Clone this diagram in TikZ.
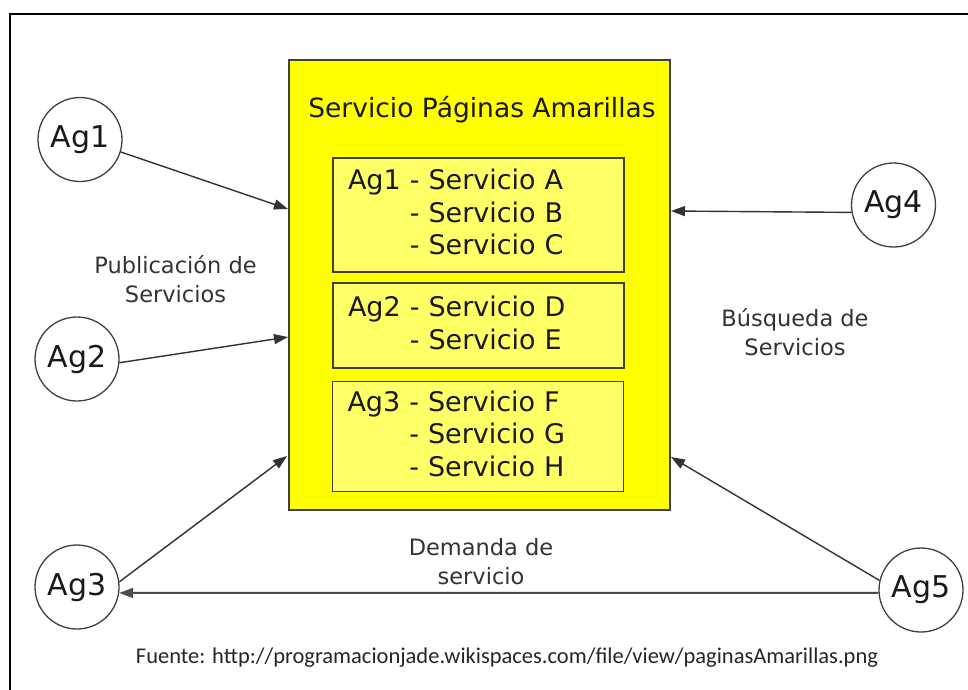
\documentclass[tikz,border=0pt]{standalone}
\usepackage{fontspec}
\setmainfont{DejaVu Sans}
\newfontfamily\fuentefont{Carlito}
\usetikzlibrary{arrows.meta, positioning}
\definecolor{amarillo}{RGB}{255,255,0}
\definecolor{amarilloclaro}{RGB}{255,255,102}

\begin{document}
\begin{tikzpicture}[x=1pt, y=-1pt, ->, >={Triangle[length=14pt, width=10pt]}, line width=1.4pt, draw=black!80,
	agent/.style={circle, draw=black!75, line width=1.3pt, fill=white, minimum size=84pt, inner sep=0pt, font=\fontsize{30}{30}\selectfont, text=black!90},
	servbox/.style={rectangle, draw=black!75, line width=1.3pt, fill=amarilloclaro, minimum width=291pt, text width=261pt, inner xsep=15pt, align=left, font=\fontsize{27}{32.5}\selectfont, text=black!90},
	note/.style={align=center, font=\fontsize{22.5}{29}\selectfont, text=black!80}]

	\useasboundingbox (0,0) rectangle (968,689);
	\draw[-, line width=2pt, draw=black] (10,14) rectangle (990,710);

	\node[rectangle, draw=black!75, line width=1.3pt, fill=amarillo, minimum width=381pt, minimum height=450pt]	(paginas)	at	(479.5, 285)	{};
	\node[font=\fontsize{26.5}{26.5}\selectfont, text=black!90]	(titulo)	at	(482, 110)	{Servicio Páginas Amarillas};

	\node[servbox, minimum height=114pt]	(srv1)	at	(478.5, 215)	{Ag1 - Servicio A \\ \phantom{Ag1} - Servicio B \\ \phantom{Ag1} - Servicio C};
	\node[servbox, minimum height=85pt]		(srv2)	at	(478.5, 325.5)	{Ag2 - Servicio D \\ \phantom{Ag2} - Servicio E};
	\node[servbox, minimum height=110pt]	(srv3)	at	(478, 436.5)	{Ag3 - Servicio F \\ \phantom{Ag3} - Servicio G \\ \phantom{Ag3} - Servicio H};

	\node[agent]	(ag1)	at	(80, 139.5)	{Ag1};
	\node[agent]	(ag2)	at	(77, 359)	{Ag2};
	\node[agent]	(ag3)	at	(77, 587)	{Ag3};
	\node[agent]	(ag4)	at	(893.5, 205)	{Ag4};
	\node[agent]	(ag5)	at	(921, 590)	{Ag5};

	\node[note]	(publicacion)	at	(175.5, 279)	{Publicación de \\ Servicios};
	\node[note]	(busqueda)		at	(795, 332)	{Búsqueda de \\ Servicios};
	\node[note]	(demanda)		at	(481, 562)	{Demanda de \\ servicio};
	\node[font=\fuentefont\fontsize{22.5}{22.5}\selectfont, text=black!85]	(fuente)	at	(507, 658)	{Fuente: http://programacionjade.wikispaces.com/file/view/paginasAmarillas.png};

	\coordinate	(in1)	at	(288, 209);
	\coordinate	(in2)	at	(288, 337);
	\coordinate	(in3)	at	(287, 456);
	\coordinate	(in4)	at	(671, 211);
	\coordinate	(in5)	at	(671, 457);

	\path	(ag1.-17)	edge	(in1)
			(ag2.-5)	edge	(in2)
			(ag3.7)		edge	(in3)
			(ag4.190)	edge	(in4)
			(ag5.167)	edge	(in5)
			(ag5.184)	edge[line width=2pt, draw=black!70]	(ag3.-8);

\end{tikzpicture}
\end{document}
